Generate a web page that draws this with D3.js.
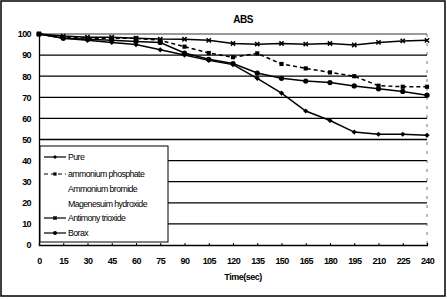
<!DOCTYPE html>
<html><head><meta charset="utf-8">
<script src="https://cdn.jsdelivr.net/npm/d3@7"></script>
<style>body{margin:0;background:#fff}svg{display:block}text{font-family:"Liberation Sans",Arial,sans-serif;fill:#000}</style>
</head><body><div id="c"></div>
<script>
const times = [0,15,30,45,60,75,90,105,120,135,150,165,180,195,210,225,240];
const yTicks = [0,10,20,30,40,50,60,70,80,90,100];
const seriesNames = ["Pure","ammonium phosphate","Ammonium bromide","Magenesuim hydroxide","Antimony trioxide","Borax"];
const pure      = [100,98,97,96,95,92.5,90,87.5,85.5,79,72,63.5,59,53.5,52.5,52.5,52];
const phosphate = [100,98.5,98,98,98,97,94,91,89,90.8,85.8,83.7,81.8,80,75.5,75,75];
const bromide   = [];
const magnesium = [];
const antimony  = [100,99,98.5,98.5,98,97.6,97.5,97,95.5,95.2,95.5,95.2,95.5,94.8,96,96.7,97];
const borax     = [100,98,97.5,97,96.5,96,91,88,86,81.5,79,77.7,77,75.4,74,72.8,71];
const seriesData = [pure,phosphate,bromide,magnesium,antimony,borax];
const markers = ["diamond","square",null,null,"cross","circle"];
const dashes = [null,"4,3",null,null,null,null];

const W=447,H=299;
const svg=d3.select("#c").append("svg").attr("width",W).attr("height",H);
svg.append("rect").attr("x",1).attr("y",1).attr("width",W-3).attr("height",H-4)
  .attr("fill","#fff").attr("stroke","#000").attr("stroke-width",1.5);

const x=d3.scaleLinear().domain([0,240]).range([39,427]);
const y=d3.scaleLinear().domain([0,100]).range([245,34]);

svg.append("g").selectAll("line").data(yTicks.filter(d=>d>0)).join("line")
  .attr("x1",x(0)).attr("x2",x(240)).attr("y1",d=>y(d)).attr("y2",d=>y(d))
  .attr("stroke","#000").attr("stroke-width",d=>d===100?0.8:1.3);
svg.append("line").attr("x1",x(240)).attr("x2",x(240)).attr("y1",y(100)).attr("y2",y(0))
  .attr("stroke","#555").attr("stroke-width",0.8).attr("stroke-dasharray","3,6");

const yAxis=d3.axisLeft(y).tickValues(yTicks).tickSize(0).tickPadding(8);
const gy=svg.append("g").attr("transform",`translate(${x(0)},0)`).call(yAxis);
gy.select(".domain").attr("stroke","#000").attr("stroke-width",1.3);
gy.selectAll("text").attr("font-size",9).attr("font-weight","bold").attr("letter-spacing",-0.6);

const xAxis=d3.axisBottom(x).tickValues(times).tickSize(-2).tickPadding(13);
const gx=svg.append("g").attr("transform",`translate(0,${y(0)})`).call(xAxis);
gx.select(".domain").attr("stroke","#000").attr("stroke-width",1.3);
gx.selectAll(".tick line").attr("stroke","#000");
gx.selectAll("text").attr("font-size",9).attr("font-weight","bold").attr("letter-spacing",-0.6);

svg.append("text").attr("x",243).attr("y",23).attr("text-anchor","middle")
  .attr("font-size",10).attr("font-weight","bold").attr("letter-spacing",-0.5).text("ABS");
svg.append("text").attr("x",243).attr("y",280).attr("text-anchor","middle")
  .attr("font-size",9).attr("font-weight","bold").attr("letter-spacing",-0.5).text("Time(sec)");

function drawMarker(g,type,cx,cy,s){
  if(type==="diamond") g.append("path").attr("d",`M${cx},${cy-s}L${cx+s},${cy}L${cx},${cy+s}L${cx-s},${cy}Z`).attr("fill","#000");
  else if(type==="square") g.append("rect").attr("x",cx-s*0.8).attr("y",cy-s*0.8).attr("width",s*1.6).attr("height",s*1.6).attr("fill","#000");
  else if(type==="circle") g.append("circle").attr("cx",cx).attr("cy",cy).attr("r",s).attr("fill","#000");
  else if(type==="cross") g.append("path").attr("d",d3.symbol(d3.symbolX,s*s*2)()).attr("transform",`translate(${cx},${cy})`).attr("stroke","#000").attr("stroke-width",1.5).attr("fill","none");
}

const line=d3.line().x((d,i)=>x(times[i])).y(d=>y(d));
seriesData.forEach((vals,k)=>{
  if(!vals.length) return;
  const g=svg.append("g");
  g.append("path").attr("d",line(vals)).attr("fill","none").attr("stroke","#000")
    .attr("stroke-width",1.5).attr("stroke-dasharray",dashes[k]);
  vals.forEach((v,i)=>drawMarker(g,markers[k],x(times[i]),y(v),2.6));
});

const lg=svg.append("g");
lg.append("rect").attr("x",40).attr("y",146).attr("width",128).attr("height",96)
  .attr("fill","#fff").attr("stroke","#000").attr("stroke-width",1);
const ly=[157,174,189,204,218,233];
seriesNames.forEach((n,k)=>{
  const yy=ly[k];
  if(seriesData[k].length){
    lg.append("line").attr("x1",44).attr("x2",66).attr("y1",yy).attr("y2",yy)
      .attr("stroke","#000").attr("stroke-width",1.2).attr("stroke-dasharray",dashes[k]);
    drawMarker(lg,markers[k],55,yy,2);
  }
  lg.append("text").attr("x",68).attr("y",yy+3).attr("font-size",8.8).attr("letter-spacing",-0.6).text(n);
});
</script></body></html>
